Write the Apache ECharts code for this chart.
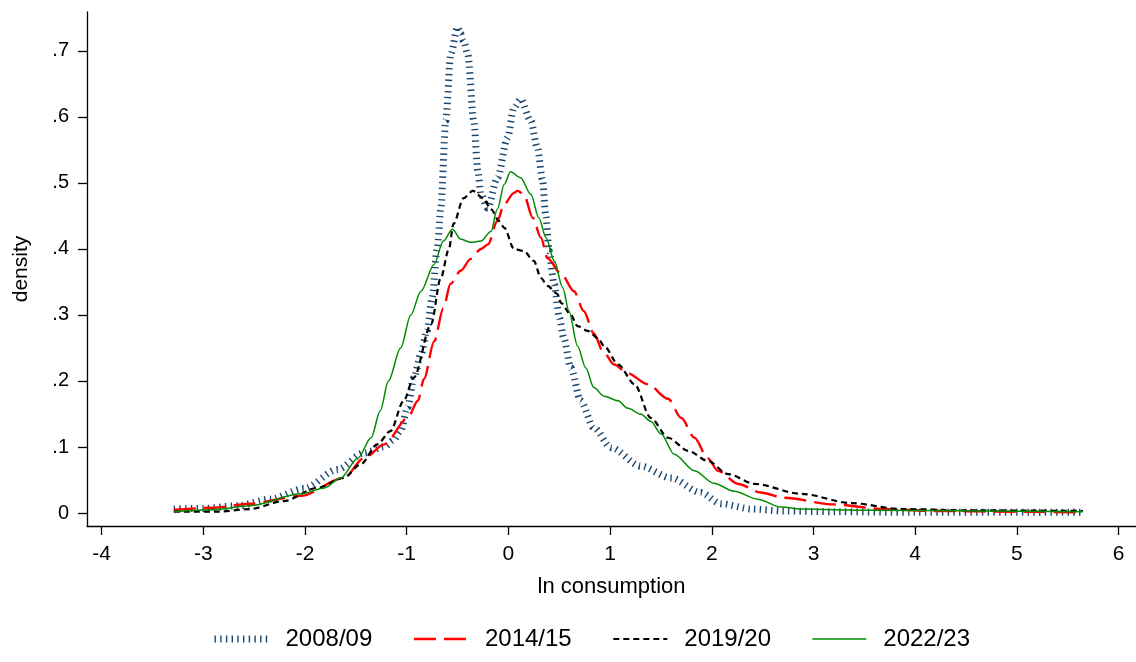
<!DOCTYPE html>
<html>
<head>
<meta charset="utf-8">
<script src="https://cdn.jsdelivr.net/npm/echarts@6/dist/echarts.min.js"></script>
<style>
  html, body { margin: 0; padding: 0; background: #fff; }
  #chart { width: 1136px; height: 662px; }
</style>
</head>
<body>
<div id="chart"></div>
<script>
// ---- data ----
const seriesNames = ['2008/09', '2014/15', '2019/20', '2022/23'];

const x0809 = [-3.29, -3.0, -2.66, -2.34, -2.01, -1.68, -1.42, -1.22, -1.13, -1.06, -0.99, -0.93, -0.86, -0.80, -0.75, -0.70, -0.665, -0.616, -0.567, -0.50, -0.47, -0.44, -0.40, -0.34, -0.30, -0.27, -0.205, -0.107, -0.01, 0.055, 0.12, 0.22, 0.286, 0.335, 0.368, 0.40, 0.45, 0.50, 0.545, 0.614, 0.71, 0.84, 1.01, 1.30, 1.60, 1.89, 2.09, 2.39, 2.71, 3.2, 4.0, 5.65];
const y0809 = [0.006, 0.007, 0.011, 0.021, 0.037, 0.066, 0.091, 0.100, 0.110, 0.124, 0.160, 0.205, 0.240, 0.276, 0.326, 0.400, 0.460, 0.594, 0.695, 0.736, 0.726, 0.715, 0.695, 0.594, 0.518, 0.483, 0.462, 0.508, 0.568, 0.614, 0.627, 0.594, 0.553, 0.505, 0.450, 0.397, 0.347, 0.296, 0.265, 0.220, 0.170, 0.129, 0.099, 0.071, 0.053, 0.031, 0.014, 0.006, 0.003, 0.002, 0.001, 0.001];

const x1415 = [-3.29, -2.9, -2.54, -2.04, -1.62, -1.42, -1.22, -0.99, -0.89, -0.83, -0.73, -0.64, -0.57, -0.47, -0.37, -0.27, -0.20, -0.11, -0.04, 0.055, 0.09, 0.15, 0.24, 0.32, 0.385, 0.52, 0.645, 0.74, 0.84, 0.93, 1.04, 1.17, 1.37, 1.57, 1.70, 1.83, 1.96, 2.06, 2.26, 2.48, 2.71, 3.2, 3.69, 4.19, 5.0, 5.65];
const y1415 = [0.005, 0.008, 0.014, 0.026, 0.053, 0.083, 0.104, 0.144, 0.170, 0.203, 0.260, 0.310, 0.347, 0.367, 0.385, 0.400, 0.407, 0.442, 0.468, 0.485, 0.488, 0.483, 0.447, 0.417, 0.386, 0.362, 0.336, 0.306, 0.272, 0.245, 0.225, 0.212, 0.195, 0.173, 0.144, 0.114, 0.083, 0.064, 0.044, 0.031, 0.023, 0.013, 0.006, 0.003, 0.002, 0.001];

const x1920 = [-3.29, -2.86, -2.54, -2.21, -1.88, -1.62, -1.45, -1.29, -1.16, -1.03, -0.93, -0.76, -0.665, -0.585, -0.54, -0.44, -0.35, -0.25, -0.17, -0.09, -0.04, 0.055, 0.15, 0.25, 0.32, 0.385, 0.48, 0.52, 0.61, 0.68, 0.78, 0.88, 0.94, 1.08, 1.24, 1.40, 1.57, 1.77, 1.96, 2.16, 2.42, 2.88, 3.37, 3.86, 4.52, 5.65];
const y1920 = [0.002, 0.002, 0.006, 0.018, 0.038, 0.053, 0.074, 0.104, 0.124, 0.170, 0.205, 0.286, 0.356, 0.400, 0.438, 0.477, 0.488, 0.477, 0.460, 0.442, 0.432, 0.400, 0.397, 0.382, 0.356, 0.344, 0.332, 0.318, 0.301, 0.283, 0.276, 0.265, 0.253, 0.225, 0.195, 0.144, 0.114, 0.094, 0.079, 0.059, 0.044, 0.029, 0.015, 0.006, 0.004, 0.003];

const x2223 = [-3.29, -2.9, -2.54, -2.04, -1.81, -1.65, -1.48, -1.35, -1.26, -1.18, -1.06, -0.96, -0.86, -0.73, -0.64, -0.55, -0.47, -0.37, -0.27, -0.17, -0.11, -0.04, 0.02, 0.12, 0.22, 0.30, 0.37, 0.45, 0.535, 0.595, 0.68, 0.76, 0.84, 0.94, 1.08, 1.17, 1.30, 1.40, 1.50, 1.63, 1.83, 2.02, 2.22, 2.45, 2.68, 2.88, 3.54, 5.65];
const y2223 = [0.002, 0.005, 0.011, 0.029, 0.038, 0.053, 0.083, 0.114, 0.155, 0.200, 0.250, 0.300, 0.336, 0.377, 0.412, 0.430, 0.415, 0.410, 0.412, 0.427, 0.460, 0.498, 0.517, 0.508, 0.483, 0.447, 0.417, 0.382, 0.341, 0.306, 0.253, 0.220, 0.190, 0.177, 0.170, 0.159, 0.150, 0.139, 0.120, 0.089, 0.064, 0.045, 0.033, 0.021, 0.009, 0.006, 0.004, 0.002];

const xTicks = [-4, -3, -2, -1, 0, 1, 2, 3, 4, 5, 6];
const yTicks = [0, 0.1, 0.2, 0.3, 0.4, 0.5, 0.6, 0.7];
const yTickLabels = ['0', '.1', '.2', '.3', '.4', '.5', '.6', '.7'];

// ---- chart ----
function pairs(xs, ys) { return xs.map((x, i) => [x, ys[i]]); }

const FONT = 'Liberation Sans, Arial, sans-serif';
const chart = echarts.init(document.getElementById('chart'), null, { renderer: 'canvas' });

const lineStyles = [
  { color: '#1a476f', width: 7, type: [1.4, 4.3], cap: 'butt' },
  { color: '#ff0000', width: 2.4, type: [22, 8], cap: 'butt' },
  { color: '#000000', width: 2.2, type: [6, 4], cap: 'butt' },
  { color: '#008b00', width: 1.5, type: 'solid', cap: 'butt' }
];
const dataSets = [pairs(x0809, y0809), pairs(x1415, y1415), pairs(x1920, y1920), pairs(x2223, y2223)];

chart.setOption({
  animation: false,
  backgroundColor: '#ffffff',
  grid: { left: 87, right: 0, top: 12, bottom: 136, containLabel: false },
  xAxis: {
    type: 'value',
    min: -4.1436, max: 6.171,
    name: 'ln consumption',
    nameLocation: 'middle',
    nameGap: 50,
    nameTextStyle: { fontFamily: FONT, fontSize: 22, color: '#000' },
    axisLine: { show: true, onZero: false, lineStyle: { color: '#000', width: 1.3 } },
    axisTick: { show: true, length: 9, customValues: xTicks, lineStyle: { color: '#000', width: 1.3 } },
    axisLabel: { customValues: xTicks, fontFamily: FONT, fontSize: 21, color: '#000', margin: 18, showMinLabel: true, showMaxLabel: true },
    splitLine: { show: false }
  },
  yAxis: {
    type: 'value',
    min: -0.0197, max: 0.759,
    name: 'density',
    nameLocation: 'middle',
    nameGap: 55,
    nameRotate: 90,
    nameTextStyle: { fontFamily: FONT, fontSize: 21, color: '#000' },
    axisLine: { show: true, onZero: false, lineStyle: { color: '#000', width: 1.3 } },
    axisTick: { show: true, length: 9, customValues: yTicks, lineStyle: { color: '#000', width: 1.3 } },
    axisLabel: {
      customValues: yTicks, fontFamily: FONT, fontSize: 20, color: '#000', margin: 18,
      formatter: v => { const i = yTicks.findIndex(t => Math.abs(t - v) < 1e-9); return i >= 0 ? yTickLabels[i] : ''; }
    },
    splitLine: { show: false }
  },
  legend: {
    left: 211, top: 627, padding: 0,
    orient: 'horizontal',
    itemWidth: 54, itemHeight: 14, itemGap: 40.5,
    itemStyle: { opacity: 0 },
    lineStyle: { width: 'inherit' },
    textStyle: { fontFamily: FONT, fontSize: 24, color: '#000', padding: [0, 0, 0, 12] },
    data: seriesNames
  },
  series: seriesNames.map((name, i) => ({
    name,
    type: 'line',
    data: dataSets[i],
    showSymbol: false,
    symbol: 'none',
    smooth: 0.3,
    smoothMonotone: 'x',
    z: 2 + i,
    lineStyle: { color: lineStyles[i].color, width: lineStyles[i].width, type: lineStyles[i].type, cap: lineStyles[i].cap },
    itemStyle: { color: lineStyles[i].color }
  }))
});
</script>
</body>
</html>
